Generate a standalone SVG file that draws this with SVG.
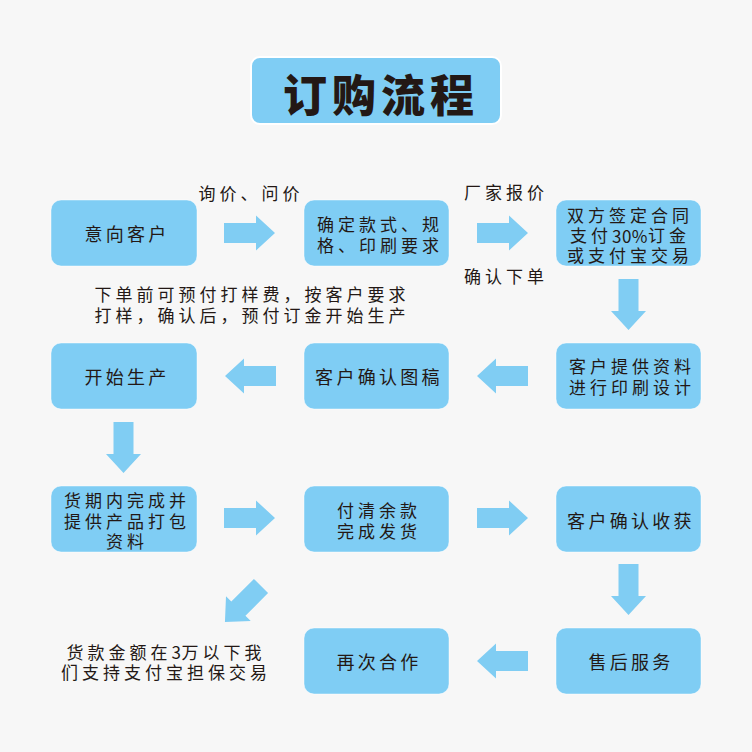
<svg xmlns="http://www.w3.org/2000/svg" xmlns:xlink="http://www.w3.org/1999/xlink" width="752" height="752" viewBox="0 0 752 752">
<style>
.box{fill:#7fcdf4;stroke:#ffffff;stroke-opacity:0.45;stroke-width:1}
.arr{fill:#80cdf3}
.t{font-family:"Noto Sans CJK SC","Noto Sans",sans-serif;font-size:17px;fill:#231815;letter-spacing:4px;text-anchor:middle;dominant-baseline:central}
.s{font-size:18px;letter-spacing:3.3px}
.d{letter-spacing:0.5px}
.title{font-family:"Noto Sans CJK SC","Noto Sans",sans-serif;font-size:44px;font-weight:900;fill:#231815;letter-spacing:5px;text-anchor:middle;dominant-baseline:central}
</style>
<defs>
<path id="arrow" d="M0,-10 H32 V-17.5 L51,0 L32,17.5 V10 H0 Z"/>
</defs>
<rect x="0" y="0" width="752" height="752" fill="#f7f7f7"/>
<g id="title">
<rect x="251" y="57" width="250" height="67" rx="9" fill="#7fcdf4" stroke="#ffffff" stroke-width="2"/>
<text class="title" x="381" y="93">订购流程</text>
</g>
<g id="n1"><rect class="box" x="51" y="200" width="146" height="66" rx="10"/><text class="t s" x="127" y="233">意向客户</text></g>
<g id="n2"><rect class="box" x="304" y="200" width="145" height="66" rx="10"/><text class="t" x="380" y="223">确定款式、规</text><text class="t" x="380" y="244">格、印刷要求</text></g>
<g id="n3"><rect class="box" x="556" y="200" width="145" height="66" rx="10"/><text class="t" x="630" y="214.5">双方签定合同</text><text class="t" x="630" y="234.5">支付<tspan class="d">30%</tspan>订金</text><text class="t" x="630" y="254.5">或支付宝交易</text></g>
<g id="n4"><rect class="box" x="51" y="343" width="146" height="66" rx="10"/><text class="t s" x="127" y="376">开始生产</text></g>
<g id="n5"><rect class="box" x="304" y="343" width="145" height="66" rx="10"/><text class="t s" x="379" y="376">客户确认图稿</text></g>
<g id="n6"><rect class="box" x="556" y="343" width="145" height="66" rx="10"/><text class="t" x="632" y="365">客户提供资料</text><text class="t" x="632" y="386.5">进行印刷设计</text></g>
<g id="n7"><rect class="box" x="51" y="486" width="146" height="66" rx="10"/><text class="t" x="127" y="499">货期内完成并</text><text class="t" x="127" y="520">提供产品打包</text><text class="t" x="127" y="540">资料</text></g>
<g id="n8"><rect class="box" x="304" y="486" width="145" height="66" rx="10"/><text class="t" x="379" y="509">付清余款</text><text class="t" x="379" y="530">完成发货</text></g>
<g id="n9"><rect class="box" x="556" y="486" width="145" height="66" rx="10"/><text class="t s" x="631" y="520">客户确认收获</text></g>
<g id="n10"><rect class="box" x="304" y="628" width="145" height="66" rx="10"/><text class="t s" x="379" y="661">再次合作</text></g>
<g id="n11"><rect class="box" x="556" y="628" width="145" height="66" rx="10"/><text class="t s" x="631" y="661">售后服务</text></g>
<g id="connectors" class="arr">
<use xlink:href="#arrow" transform="translate(224,233)"/>
<use xlink:href="#arrow" transform="translate(477,233)"/>
<use xlink:href="#arrow" transform="translate(628.5,279) rotate(90)"/>
<use xlink:href="#arrow" transform="translate(276,376) rotate(180)"/>
<use xlink:href="#arrow" transform="translate(528,376) rotate(180)"/>
<use xlink:href="#arrow" transform="translate(123.5,422) rotate(90)"/>
<use xlink:href="#arrow" transform="translate(224,518)"/>
<use xlink:href="#arrow" transform="translate(477,518)"/>
<use xlink:href="#arrow" transform="translate(628.5,564) rotate(90)"/>
<use xlink:href="#arrow" transform="translate(528,661) rotate(180)"/>
<use xlink:href="#arrow" transform="translate(261,586) rotate(135)"/>
</g>
<g id="labels">
<text class="t" x="251" y="192">询价、问价</text>
<text class="t" x="506" y="191.5">厂家报价</text>
<text class="t" x="506" y="275">确认下单</text>
<text class="t" x="252" y="293.5">下单前可预付打样费，按客户要求</text>
<text class="t" x="252" y="314">打样，确认后，预付订金开始生产</text>
<text class="t" x="166" y="651">货款金额在<tspan class="d">3</tspan>万以下我</text>
<text class="t" x="166" y="671">们支持支付宝担保交易</text>
</g>
</svg>
